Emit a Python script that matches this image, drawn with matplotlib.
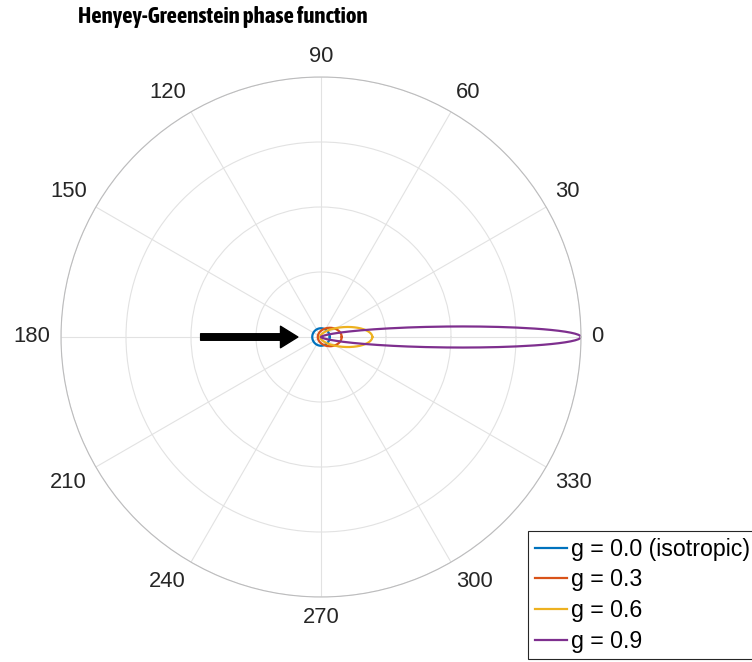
import numpy as np
import matplotlib
matplotlib.use('Agg')
from matplotlib import pyplot as plt
from matplotlib import font_manager

# asymmetry parameters of the Henyey-Greenstein phase function
g_values = [0.0, 0.3, 0.6, 0.9]
labels = ['g = 0.0 (isotropic)', 'g = 0.3', 'g = 0.6', 'g = 0.9']
colors = ['#0072BD', '#D95319', '#EDB120', '#7E2F8E']
angle_ticks = list(range(0, 360, 30))

# incoming light arrow, radial start/end as fraction of the outer radius
arrow_from = 0.463
arrow_to = 0.089


def henyey_greenstein(g, theta):
    p = (1 - g ** 2) / (1 + g ** 2 - 2 * g * np.cos(theta)) ** 1.5
    return p / np.trapezoid(p, theta)


def narrow_bold_font():
    for f in font_manager.fontManager.ttflist:
        name = f.name.lower()
        if ('narrow' in name or 'condensed' in name) and f.weight in (600, 700, 'bold'):
            return f.name
    return None


plt.rcParams['font.family'] = ['Liberation Sans', 'DejaVu Sans']

W, H = 752, 662
fig = plt.figure(figsize=(W / 100, H / 100), dpi=100)
ax = fig.add_axes([61 / W, 65 / H, 520 / W, 520 / H], projection='polar')

theta = np.linspace(0, 2 * np.pi, 1441)
curves = [henyey_greenstein(g, theta) for g in g_values]
rmax = max(c.max() for c in curves)

for c, label, color in zip(curves, labels, colors):
    ax.plot(theta, c, color=color, lw=1.6, label=label)

ax.set_rlim(0, rmax)
ax.set_rticks(np.linspace(0, rmax, 5)[1:])
ax.set_yticklabels([])
ax.set_thetagrids(angle_ticks, labels=[''] * len(angle_ticks))
ax.tick_params(length=0)
ax.grid(color='#e2e2e2', lw=0.8)
ax.spines['polar'].set_color('#bcbcbd')
ax.spines['polar'].set_linewidth(0.8)

# angle labels sit just outside the outer circle
for deg in angle_ticks:
    t = np.deg2rad(deg)
    c, s = np.cos(t), np.sin(t)
    ha = 'left' if c > 0.1 else ('right' if c < -0.1 else 'center')
    va = 'bottom' if s > 0.1 else ('top' if s < -0.1 else 'center')
    ax.text(t, rmax * 1.04, str(deg), ha=ha, va=va, fontsize=15.8,
            color='#262626', clip_on=False)

ax.annotate('', xy=(np.pi, arrow_to * rmax), xytext=(np.pi, arrow_from * rmax),
            arrowprops=dict(arrowstyle='simple,head_length=1.25,head_width=1.55,'
                                       'tail_width=0.47',
                            mutation_scale=10, color='black',
                            shrinkA=0, shrinkB=0))

narrow = narrow_bold_font()
if narrow:
    title_font, title_size = [narrow, 'Liberation Sans'], 16.5
else:
    title_font, title_size = ['Liberation Sans'], 14
fig.text(223 / W, 1 - 17 / H, 'Henyey-Greenstein phase function',
         ha='center', va='center', fontsize=title_size, fontweight='bold',
         family=title_font)

leg = fig.legend(loc='upper left', bbox_to_anchor=(528 / W, 1 - 531 / H),
                 fontsize=16.7, frameon=True, fancybox=False, framealpha=1,
                 edgecolor='#262626', handlelength=1.4, handletextpad=0.17,
                 borderpad=0.29, labelspacing=0.33, borderaxespad=0)
leg.get_frame().set_linewidth(0.8)
for t in leg.get_texts():
    t.set_color('black')

fig.savefig('out.png', dpi=100)
